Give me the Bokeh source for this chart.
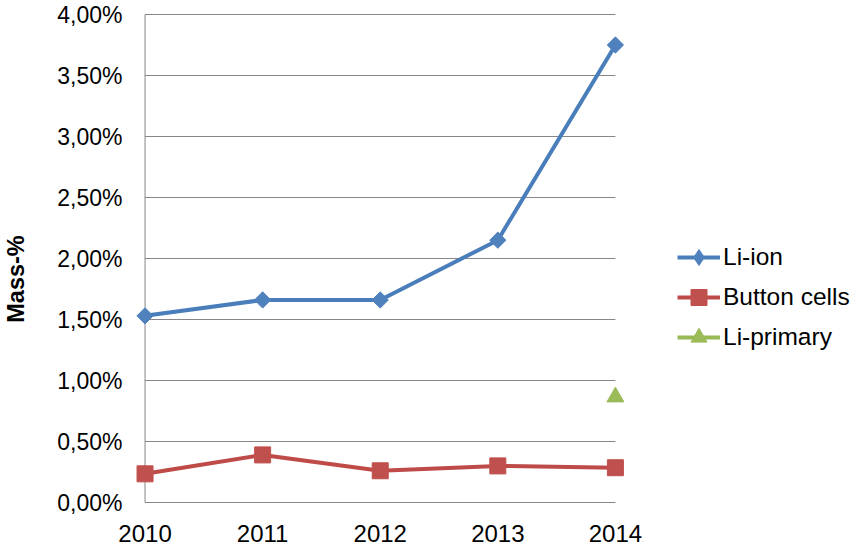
import numpy as np
from bokeh.plotting import figure
from bokeh.models import (Range1d, FixedTicker, CustomJSTickFormatter, Legend,
                          LegendItem, ColumnDataSource)
from bokeh.embed import file_html
from bokeh.resources import INLINE

# ---- data ----
years = [2010, 2011, 2012, 2013, 2014]
li_ion = [1.53, 1.66, 1.66, 2.15, 3.75]
button_cells = [0.235, 0.39, 0.26, 0.30, 0.285]
li_primary = [None, None, None, None, 0.865]
y_ticks = [0.0, 0.5, 1.0, 1.5, 2.0, 2.5, 3.0, 3.5, 4.0]
y_tick_labels = ["0,00%", "0,50%", "1,00%", "1,50%", "2,00%", "2,50%",
                 "3,00%", "3,50%", "4,00%"]
series_names = ["Li-ion", "Button cells", "Li-primary"]
y_title = "Mass-%"

FONT = "Liberation Sans"
GRID = "#868686"
BLUE_L, BLUE_M = "#4A7EBB", "#4F81BD"
RED_L, RED_M = "#BE4B48", "#C0504D"
GREEN_L, GREEN_M = "#98B954", "#9BBB59"

W, H = 851, 548
LEFT, TOP, BOTTOM = 130, 11, 2
PX_PER_YEAR = 118.25
PX_PER_PCT = 122.0
x0 = years[0] - 10.6 / PX_PER_YEAR
x1 = x0 + (W - LEFT) / PX_PER_YEAR
y1 = y_ticks[-1] + 3.0 / PX_PER_PCT
y0 = y1 - (H - TOP - BOTTOM) / PX_PER_PCT

p = figure(width=W, height=H,
           min_border_left=LEFT, min_border_right=0,
           min_border_top=TOP, min_border_bottom=BOTTOM,
           x_range=Range1d(x0, x1),
           y_range=Range1d(y0, y1),
           output_backend="svg", toolbar_location=None,
           background_fill_color="white", border_fill_color="white")
p.outline_line_color = None
p.xgrid.visible = False
p.ygrid.visible = False

# axes styling
for ax in (p.xaxis[0], p.yaxis[0]):
    ax.axis_line_color = None
    ax.major_tick_line_color = None
    ax.minor_tick_line_color = None
    ax.major_tick_in = 0
    ax.major_tick_out = 0
    ax.major_label_text_font = FONT
    ax.major_label_text_color = "black"

p.xaxis.major_label_text_font_size = "24px"
p.yaxis.major_label_text_font_size = "23px"
p.xaxis.ticker = FixedTicker(ticks=years)
p.xaxis.major_label_standoff = -22
p.yaxis.ticker = FixedTicker(ticks=y_ticks)
p.yaxis.major_label_standoff = 12
p.yaxis.formatter = CustomJSTickFormatter(
    args=dict(tvals=y_ticks, tlabels=y_tick_labels),
    code="""
    for (let i = 0; i < tvals.length; i++) {
        if (Math.abs(tvals[i] - tick) < 1e-9) return tlabels[i];
    }
    return "";
""")
p.yaxis.axis_label = y_title
p.yaxis.axis_label_standoff = 25
p.yaxis.axis_label_text_font = FONT
p.yaxis.axis_label_text_font_style = "bold"
p.yaxis.axis_label_text_font_size = "23.5px"
p.yaxis.axis_label_text_color = "black"

# gridlines (horizontal) and axis lines, spanning the category extent
p.segment(x0=years[0], x1=years[-1], y0=y_ticks, y1=y_ticks,
          line_color=GRID, line_width=1)
p.segment(x0=[years[0]], x1=[years[0]], y0=[y_ticks[0]], y1=[y_ticks[-1]],
          line_color=GRID, line_width=1)

def arr(v):
    return np.array([np.nan if x is None else x for x in v], dtype=float)

src = ColumnDataSource(dict(x=years, a=arr(li_ion), b=arr(button_cells),
                            c=arr(li_primary)))

l1 = p.line("x", "a", source=src, line_color=BLUE_L, line_width=4)
m1 = p.scatter("x", "a", source=src, marker="square", angle=np.pi / 4,
               size=11.5, fill_color=BLUE_M, line_color=BLUE_M)
l2 = p.line("x", "b", source=src, line_color=RED_L, line_width=4)
m2 = p.scatter("x", "b", source=src, marker="square", size=16,
               fill_color=RED_M, line_color=RED_M)
l3 = p.line("x", "c", source=src, line_color=GREEN_L, line_width=4)
m3 = p.scatter("x", "c", source=src, marker="triangle", size=17,
               fill_color=GREEN_M, line_color=GREEN_M)

# legend-only diamond swatch (legend glyphs ignore marker rotation)
leg_src = ColumnDataSource(dict(x=[years[0]], y=[np.nan]))
d1 = p.scatter("x", "y", source=leg_src, marker="diamond", size=16,
               fill_color=BLUE_M, line_color=BLUE_M)

# legend inside the (extended) frame, to the right of the data
legend = Legend(items=[LegendItem(label=series_names[0], renderers=[l1, d1]),
                       LegendItem(label=series_names[1], renderers=[l2, m2]),
                       LegendItem(label=series_names[2], renderers=[l3, m3])],
                location=(543, 189), padding=0, margin=0, spacing=0,
                glyph_width=43, glyph_height=40, label_height=40,
                label_standoff=3, border_line_color=None,
                background_fill_alpha=0,
                label_text_font=FONT, label_text_font_size="24.5px",
                label_text_color="black")
p.add_layout(legend)

open("out.html", "w").write(file_html(p, INLINE))
